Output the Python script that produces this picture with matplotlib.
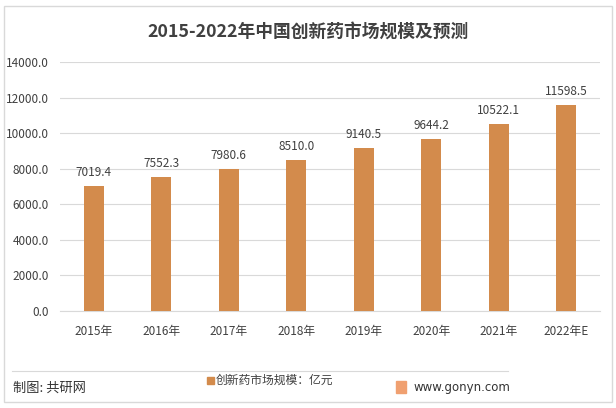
import matplotlib
matplotlib.use('Agg')
import matplotlib.pyplot as plt
from matplotlib.patches import Rectangle

plt.rcParams['font.family'] = ['Noto Sans CJK SC', 'DejaVu Sans']

years = ['2015年', '2016年', '2017年', '2018年', '2019年', '2020年', '2021年', '2022年E']
values = [7019.4, 7552.3, 7980.6, 8510.0, 9140.5, 9644.2, 10522.1, 11598.5]
yticks = [0, 2000, 4000, 6000, 8000, 10000, 12000, 14000]

bar_color = '#D38B4C'
text_color = '#404040'

fig = plt.figure(figsize=(6.16, 4.08), dpi=100)
W, H = 616, 408

# outer frame
fig.patches.append(Rectangle((4 / W, 6 / H), 608 / W, 396 / H, transform=fig.transFigure,
                             fill=False, edgecolor='#d9d9d9', linewidth=1))

ax = fig.add_axes([60 / W, (H - 311) / H, 540 / W, 249 / H])
x = range(len(years))
bars = ax.bar(x, values, width=0.3, color=bar_color, zorder=3)
for xi, v in zip(x, values):
    ax.text(xi, v + 400, f'{v:.1f}', ha='center', va='bottom', fontsize=8.5,
            fontweight='medium', color=text_color)

ax.set_ylim(0, 14000)
ax.set_xlim(-0.5, len(years) - 0.5)
ax.set_yticks(yticks)
ax.set_yticklabels([f'{t:.1f}' for t in yticks], fontsize=8.5, fontweight='medium', color=text_color)
ax.set_xticks(list(x))
ax.set_xticklabels(years, fontsize=8.5, fontweight='medium', color=text_color)
ax.tick_params(length=0, pad=10)
ax.tick_params(axis='y', pad=8)
ax.grid(axis='y', color='#d9d9d9', linewidth=0.8, zorder=0)
for s in ['top', 'right', 'left']:
    ax.spines[s].set_visible(False)
ax.spines['bottom'].set_color('#d9d9d9')

fig.text(308 / W, 1 - 32 / H, '2015-2022年中国创新药市场规模及预测', ha='center', va='center',
         fontsize=12.8, fontweight='bold', color='#404040')

# legend
fig.patches.append(Rectangle((207 / W, 1 - 384 / H), 7 / W, 7 / H, transform=fig.transFigure,
                             color=bar_color))
fig.text(216 / W, 1 - 380 / H, '创新药市场规模：亿元', ha='left', va='center', fontsize=8.5, color=text_color)

# footer
fig.add_artist(plt.Line2D([12 / W, 508 / W], [1 - 371 / H, 1 - 371 / H], transform=fig.transFigure,
                          color='#d9d9d9', linewidth=0.8))
fig.text(13 / W, 1 - 388 / H, '制图: 共研网', ha='left', va='center', fontsize=9.5, color='#333333')
fig.patches.append(Rectangle((396 / W, 1 - 393 / H), 10 / W, 12 / H, transform=fig.transFigure,
                             color='#f0a070'))
fig.text(414 / W, 1 - 387 / H, 'www.gonyn.com', ha='left', va='center', fontsize=8.5, color='#333333',
         family='DejaVu Sans')

fig.savefig('out.png', dpi=100)
